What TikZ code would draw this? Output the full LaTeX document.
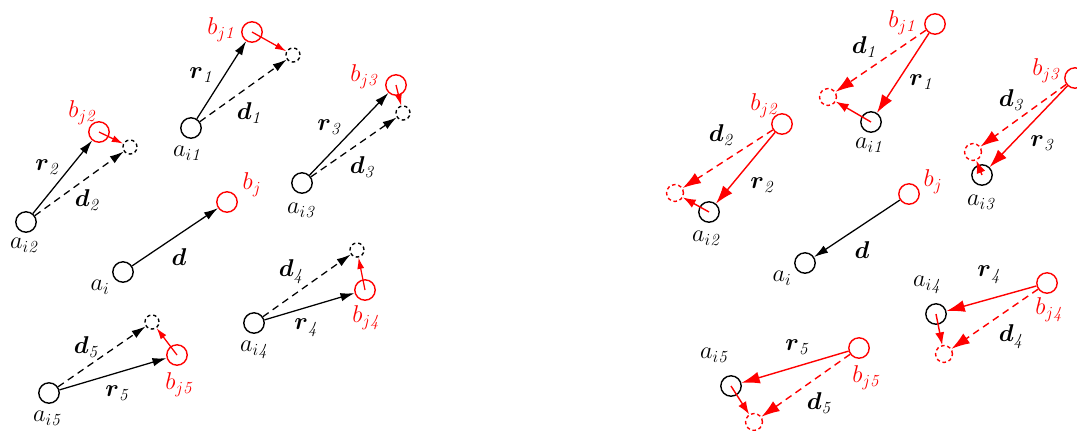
\documentclass[tikz,border=0pt]{standalone}
\usepackage{amsmath}
\usetikzlibrary{arrows.meta}
\tikzset{
  ag node/.style={circle,draw=black,line width=1pt,minimum size=14.5pt,inner sep=0pt},
  tg node/.style={circle,draw=red,line width=1pt,minimum size=14.5pt,inner sep=0pt},
  vt node/.style={circle,draw=black,dashed,dash pattern=on 2.5pt off 2pt,line width=1pt,minimum size=10pt,inner sep=0pt},
  rvt node/.style={vt node,draw=red,minimum size=12pt},
  ag text/.style={font=\LARGE},
  tg text/.style={font=\LARGE,text=red},
  vec text/.style={font=\LARGE},
  l edge/.style={black,line width=0.9pt,-{Latex[length=10pt,width=6pt]}},
  l shift/.style={red,line width=0.9pt,-{Latex[length=8pt,width=5pt]}},
  r edge/.style={red,line width=1pt,-{Latex[length=13pt,width=8.5pt]}},
  r shift/.style={red,line width=1pt,-{Latex[length=9pt,width=6.5pt]}},
  dsh/.style={dash pattern=on 5pt off 3.5pt}
}
\newcommand{\bvec}[2]{$\boldsymbol{#1}_{\mathit{#2}}$}

\begin{document}
\begin{tikzpicture}[x=0.025cm,y=-0.025cm]
  \useasboundingbox (0,0) rectangle (1077,430);
  % left: agents a_i reach towards targets b_j
  \node[ag node] (la)  at (123,272) {};
  \node[tg node] (lb)  at (227,202) {};
  \node[ag node] (la1) at (191,128) {};
  \node[tg node] (lb1) at (252,32) {};
  \node[vt node] (lv1) at (293,55) {};
  \node[ag node] (la2) at (26,222) {};
  \node[tg node] (lb2) at (99,132) {};
  \node[vt node] (lv2) at (130,147) {};
  \node[ag node] (la3) at (302,183) {};
  \node[tg node] (lb3) at (396,85) {};
  \node[vt node] (lv3) at (403,113) {};
  \node[ag node] (la4) at (254,323) {};
  \node[tg node] (lb4) at (365,290) {};
  \node[vt node] (lv4) at (357,250) {};
  \node[ag node] (la5) at (49,393) {};
  \node[tg node] (lb5) at (177,355) {};
  \node[vt node] (lv5) at (152,322) {};

  \node[ag text] (lta)  at (100,287) {$a_i$};
  \node[tg text] (ltb)  at (252,185) {$b_j$};
  \node[vec text] (ltd) at (179,257) {$\boldsymbol{d}$};
  \node[ag text] (lta1) at (188,153) {$a_{i\mathit{1}}$};
  \node[tg text] (ltb1) at (222,30) {$b_{j\mathit{1}}$};
  \node[vec text] (ltr1) at (202,75) {\bvec{r}{1}};
  \node[vec text] (ltd1) at (250,113) {\bvec{d}{1}};
  \node[ag text] (lta2) at (25,245) {$a_{i\mathit{2}}$};
  \node[tg text] (ltb2) at (83,113) {$b_{j\mathit{2}}$};
  \node[vec text] (ltr2) at (48,167) {\bvec{r}{2}};
  \node[vec text] (ltd2) at (88,200) {\bvec{d}{2}};
  \node[ag text] (lta3) at (302,210) {$a_{i\mathit{3}}$};
  \node[tg text] (ltb3) at (365,77) {$b_{j\mathit{3}}$};
  \node[vec text] (ltr3) at (330,127) {\bvec{r}{3}};
  \node[vec text] (ltd3) at (363,167) {\bvec{d}{3}};
  \node[ag text] (lta4) at (255,350) {$a_{i\mathit{4}}$};
  \node[tg text] (ltb4) at (367,318) {$b_{j\mathit{4}}$};
  \node[vec text] (ltr4) at (307,328) {\bvec{r}{4}};
  \node[vec text] (ltd4) at (292,272) {\bvec{d}{4}};
  \node[ag text] (lta5) at (48,418) {$a_{i\mathit{5}}$};
  \node[tg text] (ltb5) at (180,385) {$b_{j\mathit{5}}$};
  \node[vec text] (ltr5) at (118,393) {\bvec{r}{5}};
  \node[vec text] (ltd5) at (87,347) {\bvec{d}{5}};

  \draw[l edge] (la)--(lb);
  \foreach \k in {1,...,5}{
    \draw[l edge] (la\k)--(lb\k);
    \draw[l edge,dsh] (la\k)--(lv\k);
    \draw[l shift] (lb\k.center)--(lv\k);
  }

  % right: targets b_j pulled back to agents a_i
  \node[ag node] (ra)  at (805,263) {};
  \node[tg node] (rb)  at (909,194) {};
  \node[ag node] (ra1) at (871,122) {};
  \node[tg node] (rb1) at (935,24) {};
  \node[rvt node] (rv1) at (828,97) {};
  \node[ag node] (ra2) at (709,212) {};
  \node[tg node] (rb2) at (782,124) {};
  \node[rvt node] (rv2) at (675,193) {};
  \node[ag node] (ra3) at (982,175) {};
  \node[tg node] (rb3) at (1075,78) {};
  \node[rvt node] (rv3) at (973,152) {};
  \node[ag node] (ra4) at (936,314) {};
  \node[tg node] (rb4) at (1047,283) {};
  \node[rvt node] (rv4) at (944,354) {};
  \node[ag node] (ra5) at (731,386) {};
  \node[tg node] (rb5) at (859,348) {};
  \node[rvt node] (rv5) at (754,422) {};

  \node[ag text] (rta)  at (782,278) {$a_i$};
  \node[tg text] (rtb)  at (933,182) {$b_j$};
  \node[vec text] (rtd) at (862,250) {$\boldsymbol{d}$};
  \node[ag text] (rta1) at (870,145) {$a_{i\mathit{1}}$};
  \node[tg text] (rtb1) at (903,23) {$b_{j\mathit{1}}$};
  \node[vec text] (rtr1) at (922,82) {\bvec{r}{1}};
  \node[vec text] (rtd1) at (865,47) {\bvec{d}{1}};
  \node[ag text] (rta2) at (707,238) {$a_{i\mathit{2}}$};
  \node[tg text] (rtb2) at (765,106) {$b_{j\mathit{2}}$};
  \node[vec text] (rtr2) at (763,185) {\bvec{r}{2}};
  \node[vec text] (rtd2) at (722,135) {\bvec{d}{2}};
  \node[ag text] (rta3) at (982,202) {$a_{i\mathit{3}}$};
  \node[tg text] (rtb3) at (1047,71) {$b_{j\mathit{3}}$};
  \node[vec text] (rtr3) at (1043,143) {\bvec{r}{3}};
  \node[vec text] (rtd3) at (1012,100) {\bvec{d}{3}};
  \node[ag text] (rta4) at (928,285) {$a_{i\mathit{4}}$};
  \node[tg text] (rtb4) at (1050,310) {$b_{j\mathit{4}}$};
  \node[vec text] (rtr4) at (990,275) {\bvec{r}{4}};
  \node[vec text] (rtd4) at (1012,337) {\bvec{d}{4}};
  \node[ag text] (rta5) at (715,355) {$a_{i\mathit{5}}$};
  \node[tg text] (rtb5) at (867,378) {$b_{j\mathit{5}}$};
  \node[vec text] (rtr5) at (798,347) {\bvec{r}{5}};
  \node[vec text] (rtd5) at (820,403) {\bvec{d}{5}};

  \draw[l edge] (rb)--(ra);
  \foreach \k in {1,...,5}{
    \draw[r edge] (rb\k)--(ra\k);
    \draw[r edge,dsh] (rb\k)--(rv\k);
    \draw[r shift] (ra\k.center)--(rv\k);
  }
\end{tikzpicture}
\end{document}
